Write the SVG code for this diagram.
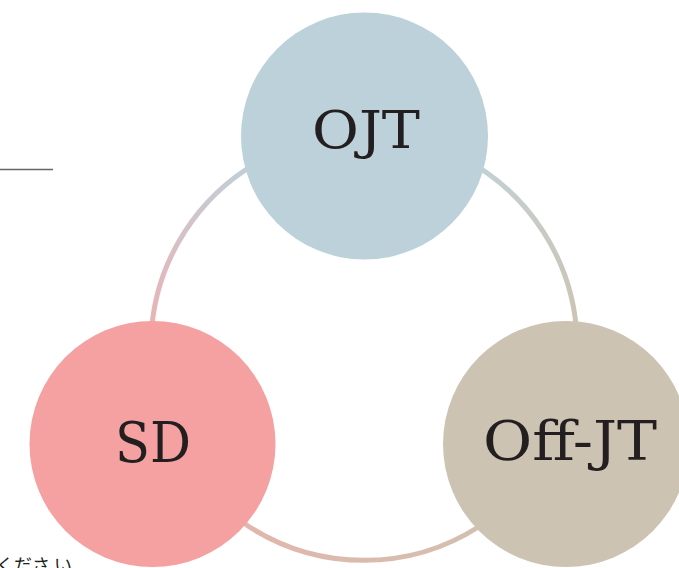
<svg xmlns="http://www.w3.org/2000/svg" width="679" height="568" viewBox="0 0 679 568">
<defs>
<linearGradient id="gL" gradientUnits="userSpaceOnUse" x1="260" y1="170" x2="152" y2="330">
<stop offset="0" stop-color="#bfd0d9"/><stop offset="1" stop-color="#eab3b4"/>
</linearGradient>
<linearGradient id="gB" gradientUnits="userSpaceOnUse" x1="240" y1="520" x2="480" y2="520">
<stop offset="0" stop-color="#e2b6ad"/><stop offset="1" stop-color="#d3bfb0"/>
</linearGradient>
<linearGradient id="gR" gradientUnits="userSpaceOnUse" x1="480" y1="170" x2="578" y2="330">
<stop offset="0" stop-color="#c3d0d4"/><stop offset="1" stop-color="#cdc3b2"/>
</linearGradient>
<style>
.ring{fill:none;stroke-width:5}
.lbl{font-family:"DejaVu Serif","Liberation Serif",serif;fill:#231f20;text-anchor:middle}
.jp{font-family:"Noto Sans CJK JP",sans-serif;fill:#231f20}
</style>
</defs>
<rect width="679" height="568" fill="#ffffff"/>
<line x1="0" y1="169.5" x2="53" y2="169.5" stroke="#666666" stroke-width="1.3"/>
<text class="jp" x="-4" y="572" font-size="18">くださ い</text>
<g id="connectors">
<path class="ring" stroke="url(#gL)" d="M364,134 A213,213 0 0 0 170.2,435.7"/>
<path class="ring" stroke="url(#gB)" d="M170.2,435.7 A213,213 0 0 0 557.8,435.7"/>
<path class="ring" stroke="url(#gR)" d="M557.8,435.7 A213,213 0 0 0 364,134"/>
</g>
<g id="ojt">
<circle cx="364.5" cy="136" r="123.5" fill="#bdd1da"/>
<text class="lbl" x="366" y="148" font-size="53" textLength="108" lengthAdjust="spacingAndGlyphs">OJT</text>
</g>
<g id="sd">
<circle cx="152.5" cy="444" r="123" fill="#f6a1a1"/>
<text class="lbl" x="153" y="462" font-size="56" textLength="76" lengthAdjust="spacingAndGlyphs">SD</text>
</g>
<g id="offjt">
<circle cx="566" cy="444" r="123" fill="#cdc3b2"/>
<text class="lbl" x="570" y="460" font-size="55" textLength="174" lengthAdjust="spacingAndGlyphs">Off-JT</text>
</g>
</svg>
